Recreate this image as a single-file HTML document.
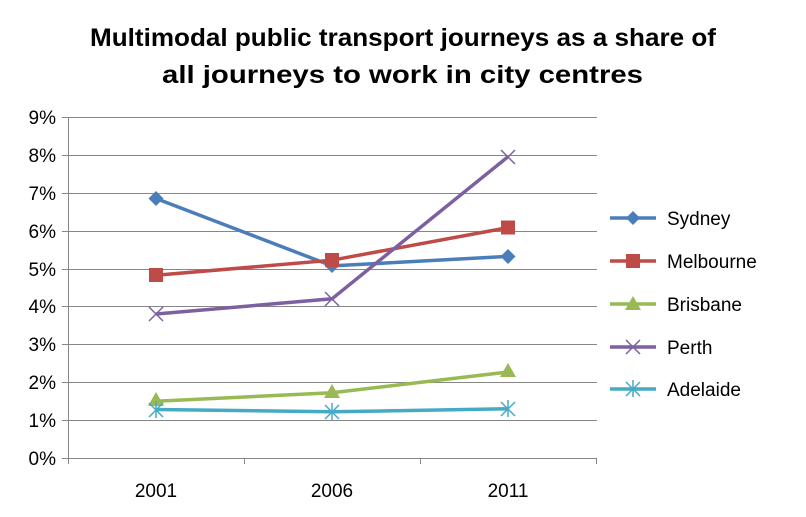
<!DOCTYPE html>
<html><head><meta charset="utf-8"><style>
html,body{margin:0;padding:0;background:#fff;}
svg{display:block;font-family:"Liberation Sans",sans-serif;}
</style></head><body>
<svg width="806" height="517" viewBox="0 0 806 517" xmlns="http://www.w3.org/2000/svg">
<rect width="806" height="517" fill="#fff"/>
<text x="90" y="46" font-size="25" font-weight="bold" fill="#000" textLength="626" lengthAdjust="spacingAndGlyphs">Multimodal public transport journeys as a share of</text>
<text x="162" y="83" font-size="25" font-weight="bold" fill="#000" textLength="481" lengthAdjust="spacingAndGlyphs">all journeys to work in city centres</text>
<g stroke="#868686" stroke-width="1">
<line x1="68" y1="117.5" x2="597" y2="117.5"/>
<line x1="68" y1="155.5" x2="597" y2="155.5"/>
<line x1="68" y1="193.5" x2="597" y2="193.5"/>
<line x1="68" y1="231.5" x2="597" y2="231.5"/>
<line x1="68" y1="269.5" x2="597" y2="269.5"/>
<line x1="68" y1="306.5" x2="597" y2="306.5"/>
<line x1="68" y1="344.5" x2="597" y2="344.5"/>
<line x1="68" y1="382.5" x2="597" y2="382.5"/>
<line x1="68" y1="420.5" x2="597" y2="420.5"/>
<line x1="68" y1="458.5" x2="597" y2="458.5"/>
<line x1="68.5" y1="117" x2="68.5" y2="464"/>
<line x1="62" y1="117.5" x2="68" y2="117.5"/><line x1="62" y1="155.5" x2="68" y2="155.5"/><line x1="62" y1="193.5" x2="68" y2="193.5"/><line x1="62" y1="231.5" x2="68" y2="231.5"/><line x1="62" y1="269.5" x2="68" y2="269.5"/><line x1="62" y1="306.5" x2="68" y2="306.5"/><line x1="62" y1="344.5" x2="68" y2="344.5"/><line x1="62" y1="382.5" x2="68" y2="382.5"/><line x1="62" y1="420.5" x2="68" y2="420.5"/><line x1="62" y1="458.5" x2="68" y2="458.5"/>
<line x1="244.5" y1="458" x2="244.5" y2="464"/><line x1="420.5" y1="458" x2="420.5" y2="464"/><line x1="596.5" y1="458" x2="596.5" y2="464"/>
</g>
<g font-size="19" fill="#000" text-anchor="end">
<text x="56" y="124">9%</text><text x="56" y="162">8%</text><text x="56" y="200">7%</text><text x="56" y="238">6%</text><text x="56" y="276">5%</text><text x="56" y="313">4%</text><text x="56" y="351">3%</text><text x="56" y="389">2%</text><text x="56" y="427">1%</text><text x="56" y="465">0%</text>
</g>
<g font-size="19" fill="#000" text-anchor="middle">
<text x="156" y="497">2001</text><text x="332" y="497">2006</text><text x="508" y="497">2011</text>
</g>
<polyline points="156,198.5 332,265.9 508,256.4" fill="none" stroke="#4A7EBB" stroke-width="3.5"/>
<g fill="#4A7EBB"><path d="M156,191 l7.5,7.5 l-7.5,7.5 l-7.5,-7.5z"/><path d="M332,258 l7.5,7.5 l-7.5,7.5 l-7.5,-7.5z"/><path d="M508,249 l7.5,7.5 l-7.5,7.5 l-7.5,-7.5z"/></g>
<polyline points="156,275.3 332,260.2 508,227.6" fill="none" stroke="#BE4B48" stroke-width="3.5"/>
<g fill="#BE4B48"><rect x="149" y="268" width="14" height="14"/><rect x="325" y="253" width="14" height="14"/><rect x="501" y="220.5" width="14" height="14"/></g>
<polyline points="156,401.2 332,392.8 508,372" fill="none" stroke="#98B954" stroke-width="3.5"/>
<g fill="#98B954"><path d="M156,392 l8,14 h-16z"/><path d="M332,384 l8,14 h-16z"/><path d="M508,363 l8,14 h-16z"/></g>
<polyline points="156,314 332,298.8 508,156.7" fill="none" stroke="#7D60A0" stroke-width="3.5"/>
<g stroke="#7D60A0" stroke-width="1.5"><path d="M149,307 l14,14 M163,307 l-14,14"/><path d="M325,292 l14,14 M339,292 l-14,14"/><path d="M501,150 l14,14 M515,150 l-14,14"/></g>
<polyline points="156,409.5 332,411.8 508,408.8" fill="none" stroke="#46AAC5" stroke-width="3.5"/>
<g stroke="#46AAC5" stroke-width="1.5"><path d="M149,403 l14,14 M163,403 l-14,14 M156,401 v17"/><path d="M325,405 l14,14 M339,405 l-14,14 M332,403 v17"/><path d="M501,402 l14,14 M515,402 l-14,14 M508,400 v17"/></g>
<g font-size="19" fill="#000">
<line x1="610" y1="218" x2="656" y2="218" stroke="#4A7EBB" stroke-width="3.5"/><path d="M633,211 l7,7 l-7,7 l-7,-7z" fill="#4A7EBB"/><text x="667" y="225">Sydney</text>
<line x1="610" y1="261" x2="656" y2="261" stroke="#BE4B48" stroke-width="3.5"/><rect x="626" y="254" width="14" height="14" fill="#BE4B48"/><text x="667" y="268">Melbourne</text>
<line x1="610" y1="304" x2="656" y2="304" stroke="#98B954" stroke-width="3.5"/><path d="M633,296 l8,14 h-16z" fill="#98B954"/><text x="667" y="311">Brisbane</text>
<line x1="610" y1="347" x2="656" y2="347" stroke="#7D60A0" stroke-width="3.5"/><path d="M626,340 l14,14 M640,340 l-14,14" stroke="#7D60A0" stroke-width="1.5"/><text x="667" y="354">Perth</text>
<line x1="610" y1="389" x2="656" y2="389" stroke="#46AAC5" stroke-width="3.5"/><path d="M626,382 l14,14 M640,382 l-14,14 M633,380 v17" stroke="#46AAC5" stroke-width="1.5"/><text x="667" y="396">Adelaide</text>
</g>
</svg>
</body></html>
